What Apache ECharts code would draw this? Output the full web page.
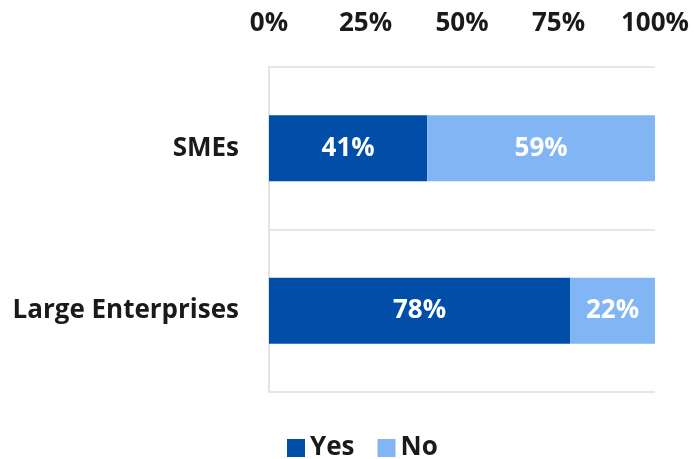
<!DOCTYPE html>
<html>
<head>
<meta charset="utf-8">
<script src="https://cdn.jsdelivr.net/npm/echarts@6/dist/echarts.min.js"></script>
<style>html,body{margin:0;padding:0;background:#fff}#c{width:695px;height:459px}</style>
</head>
<body>
<div id="c"></div>
<script>
const categories = ["SMEs", "Large Enterprises"];
const yesValues = [41, 78];
const noValues = [59, 22];
const seriesNames = ["Yes", "No"];
const tickValues = [0, 25, 50, 75, 100];

const chart = echarts.init(document.getElementById('c'));
const font = "'Open Sans', 'Liberation Sans', sans-serif";
const labelOpt = {show: true, position: 'inside', formatter: '{c}%', color: '#fff', fontSize: 26, fontWeight: 'bold', fontFamily: font};
chart.setOption({
  animation: false,
  grid: {left: 269, right: 40, top: 67, bottom: 67},
  legend: {
    data: seriesNames, top: 430, left: 282, itemWidth: 18, itemHeight: 18, itemGap: 23,
    icon: 'rect',
    textStyle: {fontSize: 26, fontWeight: 'bold', color: '#1a1a1a', fontFamily: font}
  },
  xAxis: {
    type: 'value', position: 'top', min: tickValues[0], max: tickValues[tickValues.length-1], interval: 25,
    axisLine: {show: false}, axisTick: {show: false}, splitLine: {show: false},
    axisLabel: {formatter: '{value}%', fontSize: 26, fontWeight: 'bold', color: '#1a1a1a', fontFamily: font, margin: 30}
  },
  yAxis: {
    type: 'category', data: categories, inverse: true,
    axisLine: {show: true, lineStyle: {color: '#e3e3e3', width: 2}},
    axisTick: {show: false},
    splitLine: {show: true, lineStyle: {color: '#e6e6e6', width: 2}},
    axisLabel: {fontSize: 26, fontWeight: 'bold', color: '#1a1a1a', fontFamily: font, margin: 30}
  },
  series: [
    {name: seriesNames[0], type: 'bar', stack: 'a', data: yesValues, barWidth: 66, itemStyle: {color: '#004EA8'}, label: labelOpt},
    {name: seriesNames[1], type: 'bar', stack: 'a', data: noValues, barWidth: 66, itemStyle: {color: '#82B5F3'}, label: labelOpt}
  ]
});
</script>
</body>
</html>
